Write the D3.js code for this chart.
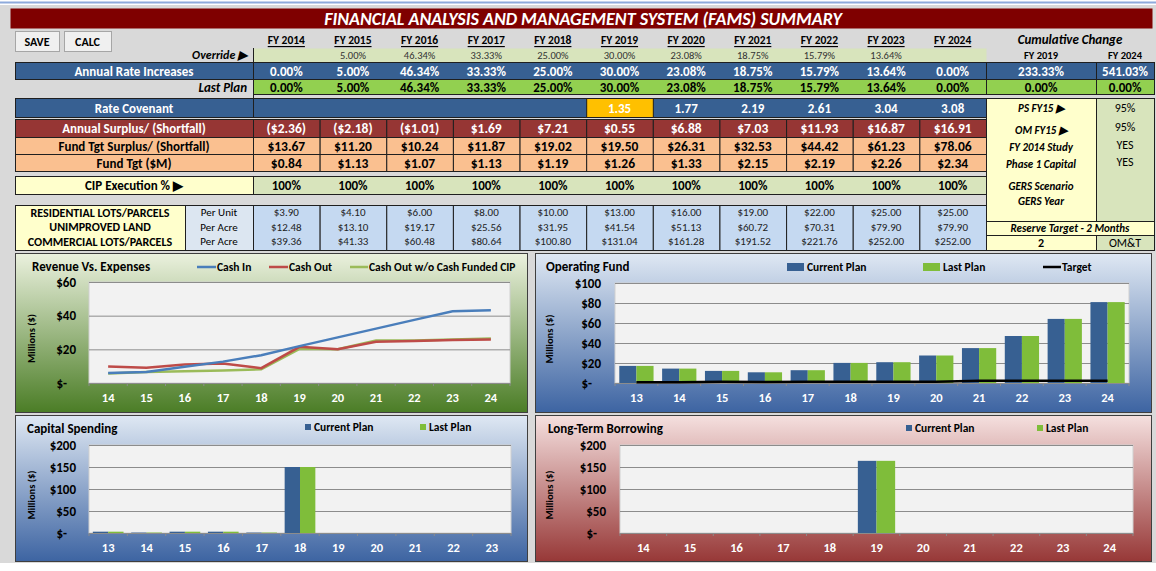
<!DOCTYPE html>
<html lang="en">
<head>
<meta charset="utf-8">
<script src="https://cdn.jsdelivr.net/npm/d3@7"></script>
<style>
  body { margin: 0; background: #fff; }
  svg { display: block; font-family: Carlito, Lato, "Open Sans", sans-serif; }
</style>
</head>
<body>
<svg id="dash" width="1156" height="571"></svg>
<script>
// ---- table data ----
var years = ["FY 2014","FY 2015","FY 2016","FY 2017","FY 2018","FY 2019","FY 2020","FY 2021","FY 2022","FY 2023","FY 2024"];
var overridePct = [null,5.00,46.34,33.33,25.00,30.00,23.08,18.75,15.79,13.64,null];
var ratePct = [0.00,5.00,46.34,33.33,25.00,30.00,23.08,18.75,15.79,13.64,0.00];
var lastPlanPct = [0.00,5.00,46.34,33.33,25.00,30.00,23.08,18.75,15.79,13.64,0.00];
var cumYears = ["FY 2019","FY 2024"];
var cumRatePct = [233.33,541.03];
var cumLastPct = [0.00,0.00];
var rateCovenant = [null,null,null,null,null,1.35,1.77,2.19,2.61,3.04,3.08];
var annualSurplus = [-2.36,-2.18,-1.01,1.69,7.21,0.55,6.88,7.03,11.93,16.87,16.91];
var fundTgtSurplus = [13.67,11.20,10.24,11.87,19.02,19.50,26.31,32.53,44.42,61.23,78.06];
var fundTgt = [0.84,1.13,1.07,1.13,1.19,1.26,1.33,2.15,2.19,2.26,2.34];
var cipExecution = [100,100,100,100,100,100,100,100,100,100,100];
var lotTypes = ["RESIDENTIAL LOTS/PARCELS","UNIMPROVED LAND","COMMERCIAL LOTS/PARCELS"];
var lotUnits = ["Per Unit","Per Acre","Per Acre"];
var residential = [3.90,4.10,6.00,8.00,10.00,13.00,16.00,19.00,22.00,25.00,25.00];
var unimproved = [12.48,13.10,19.17,25.56,31.95,41.54,51.13,60.72,70.31,79.90,79.90];
var commercial = [39.36,41.33,60.48,80.64,100.80,131.04,161.28,191.52,221.76,252.00,252.00];
var sideLabels = ["PS FY15 \u25B6","OM FY15 \u25B6","FY 2014 Study","Phase 1 Capital","GERS Scenario","GERS Year"];
var sideValues = ["95%","95%","YES","YES","",""];
var reserveLabel = "Reserve Target - 2 Months";
var reserveValues = ["2","OM&T"];

// ---- chart data ----
var revYears = ["14","15","16","17","18","19","20","21","22","23","24"];
var cashIn = [6.0,6.6,9.6,12.7,16.5,21.9,27.1,32.3,37.5,42.6,43.2];
var cashOut = [9.8,9.0,11.0,11.6,8.8,21.5,20.1,24.5,24.9,25.5,25.9];
var cashOutNoCip = [5.6,6.6,7.0,7.4,8.2,20.3,20.1,25.3,25.3,25.9,26.5];

var opYears = ["13","14","15","16","17","18","19","20","21","22","23","24"];
var opCurrent = [17.1,14.4,12.1,10.7,12.8,20.1,20.8,27.5,34.9,47.0,64.1,80.9];
var opLast = [17.1,14.4,12.1,10.7,12.8,20.1,20.8,27.5,34.9,47.0,64.1,80.9];
var opTarget = [0.80,0.84,1.13,1.07,1.13,1.19,1.26,1.33,2.15,2.19,2.26,2.34];

var capYears = ["13","14","15","16","17","18","19","20","21","22","23"];
var capCurrent = [3,1,3,3,1,150,0,0,0,0,0];
var capLast = [3,1,3,3,1,150,0,0,0,0,0];

var ltbYears = ["14","15","16","17","18","19","20","21","22","23","24"];
var ltbCurrent = [0,0,0,0,0,164,0,0,0,0,0];
var ltbLast = [0,0,0,0,0,164,0,0,0,0,0];

var C_BLUE = "#376092", C_GREEN = "#7fbd3a";

var svg = d3.select("#dash");
var pct = function(d) { return d.toFixed(2) + "%"; };
var money = function(d) { return d < 0 ? "($" + (-d).toFixed(2) + ")" : "$" + d.toFixed(2); };

function box(x, y, w, h, fill, stroke) {
  return svg.append("rect").attr("x", x + 0.5).attr("y", y + 0.5).attr("width", w).attr("height", h)
    .attr("fill", fill).attr("stroke", stroke || "none");
}
function txt(x, y, s, o) {
  o = o || {};
  return svg.append("text").attr("x", x).attr("y", y).text(s)
    .attr("text-anchor", o.anchor || "middle")
    .attr("dominant-baseline", "central")
    .attr("font-size", o.size || 13)
    .attr("font-weight", o.weight || "bold")
    .attr("font-style", o.style || "normal")
    .attr("fill", o.fill || "#000");
}

// background
svg.append("rect").attr("width", 1156).attr("height", 571).attr("fill", "#fff");
svg.append("rect").attr("x", 0).attr("y", 5).attr("width", 1156).attr("height", 558).attr("fill", "#d9d9d9");
svg.append("line").attr("x1", 0).attr("x2", 1156).attr("y1", 2.5).attr("y2", 2.5).attr("stroke", "#8eaadb").attr("stroke-width", 2);

// title
box(10, 8, 1142, 20, "#7f0000");
txt(583, 18.5, "FINANCIAL ANALYSIS AND MANAGEMENT SYSTEM (FAMS) SUMMARY", {size: 18, style: "italic", fill: "#fff"});

// buttons
[["SAVE", 15, 44], ["CALC", 64, 47]].forEach(function(b) {
  box(b[1], 31, b[2], 20, "#f0f0f0", "#a6a6a6");
  txt(b[1] + b[2] / 2, 41.5, b[0], {size: 12});
});

var col = d3.scaleBand().domain(years).range([253, 986]);
var cx = function(i) { return col(years[i]) + col.bandwidth() / 2; };
var cumX = [1041, 1125];

// headers
years.forEach(function(y, i) {
  txt(cx(i), 40, y, {size: 11.5}).attr("text-decoration", "underline");
});
txt(1070, 39, "Cumulative Change", {size: 13, style: "italic"});
cumYears.forEach(function(y, i) { txt(cumX[i], 55, y, {size: 10.5}); });

// override
box(253, 48, 733, 14, "#d8e4bc");
txt(247, 55, "Override \u25B6", {anchor: "end", size: 12, style: "italic"});
overridePct.forEach(function(v, i) { if (v != null) txt(cx(i), 55, pct(v), {size: 10.5, weight: "normal", fill: "#333"}); });

// annual rate increases
box(15, 62, 1139, 17, C_BLUE, "#1f1f1f");
[253, 986, 1096].forEach(function(x) { svg.append("line").attr("x1", x + .5).attr("x2", x + .5).attr("y1", 62).attr("y2", 80).attr("stroke", "#1f1f1f"); });
txt(134, 71, "Annual Rate Increases", {fill: "#fff"});
ratePct.forEach(function(v, i) { txt(cx(i), 71, pct(v), {fill: "#fff"}); });
cumRatePct.forEach(function(v, i) { txt(cumX[i], 71, pct(v), {fill: "#fff"}); });

// last plan
box(253, 79, 901, 15, "#92d050", "#1f1f1f");
[986, 1096].forEach(function(x) { svg.append("line").attr("x1", x + .5).attr("x2", x + .5).attr("y1", 79).attr("y2", 94).attr("stroke", "#1f1f1f"); });
txt(247, 87, "Last Plan", {anchor: "end", style: "italic"});
lastPlanPct.forEach(function(v, i) { txt(cx(i), 87, pct(v)); });
cumLastPct.forEach(function(v, i) { txt(cumX[i], 87, pct(v)); });
svg.append("line").attr("x1", 253.5).attr("x2", 253.5).attr("y1", 48).attr("y2", 98).attr("stroke", "#1f1f1f");

// rate covenant
box(15, 98, 971, 19, C_BLUE, "#1f1f1f");
svg.append("line").attr("x1", 253.5).attr("x2", 253.5).attr("y1", 98).attr("y2", 117).attr("stroke", "#1f1f1f");
txt(134, 108, "Rate Covenant", {fill: "#fff"});
rateCovenant.forEach(function(v, i) {
  if (v == null) return;
  if (i === 5) box(col(years[i]), 98, col.bandwidth(), 19, "#ffc000", "#1f1f1f");
  txt(cx(i), 108, v.toFixed(2), {fill: "#fff"});
});

// side panel
box(986, 98, 110, 123, "#ffffcc", "#1f1f1f");
box(1096, 98, 58, 123, "#d8e4bc", "#1f1f1f");
var sideY = [108, 130, 147, 164, 186, 201];
var sideValY = [108, 127, 145, 162, 186, 201];
sideLabels.forEach(function(s, i) { txt(1041, sideY[i], s, {size: 11, style: "italic"}); });
sideValues.forEach(function(s, i) { txt(1125, sideValY[i], s, {size: 12, weight: "normal"}); });
box(986, 221, 168, 14, "#ffffcc", "#1f1f1f");
txt(1070, 228, reserveLabel, {size: 11, style: "italic"});
box(986, 235, 110, 15, "#ffffcc", "#1f1f1f");
box(1096, 235, 58, 15, "#d8e4bc", "#1f1f1f");
txt(1041, 243, reserveValues[0], {size: 12});
txt(1125, 243, reserveValues[1], {size: 12, weight: "normal"});

// money rows
var moneyRows = [
  {label: "Annual Surplus/ (Shortfall)", vals: annualSurplus, y: 119, h: 18, fill: "#963634", color: "#fff"},
  {label: "Fund Tgt Surplus/ (Shortfall)", vals: fundTgtSurplus, y: 137, h: 17, fill: "#fac090", color: "#000"},
  {label: "Fund Tgt ($M)", vals: fundTgt, y: 154, h: 17, fill: "#fac090", color: "#000"}
];
moneyRows.forEach(function(r) {
  box(15, r.y, 238, r.h, r.fill, "#1f1f1f");
  txt(134, r.y + r.h / 2 + 0.5, r.label, {fill: r.color});
  r.vals.forEach(function(v, i) {
    box(col(years[i]), r.y, col.bandwidth(), r.h, r.fill, "#1f1f1f");
    txt(cx(i), r.y + r.h / 2 + 0.5, money(v), {fill: r.color, size: 13.5});
  });
});

// CIP execution
box(15, 176, 238, 18, "#ffffcc", "#1f1f1f");
box(253, 176, 733, 18, "#d8e4bc", "#1f1f1f");
txt(134, 185, "CIP Execution % \u25B6");
cipExecution.forEach(function(v, i) { txt(cx(i), 185, v + "%"); });

// lots table
box(15, 205, 170, 45, "#ffffcc", "#1f1f1f");
box(185, 205, 68, 45, "#dce6f1", "#1f1f1f");
years.forEach(function(y) { box(col(y), 205, col.bandwidth(), 45, "#c5d9f1", "#1f1f1f"); });
[residential, unimproved, commercial].forEach(function(arr, r) {
  var y = 212.5 + r * 14.5;
  txt(100, y, lotTypes[r], {size: 12});
  txt(219, y, lotUnits[r], {size: 11, weight: "normal"});
  arr.forEach(function(v, i) { txt(cx(i), y, money(v), {size: 11, weight: "normal", fill: "#222"}); });
});

// ---- charts ----
var defs = svg.append("defs");
function grad(id, top, bottom) {
  var lg = defs.append("linearGradient").attr("id", id).attr("x1", 0).attr("y1", 0).attr("x2", 0).attr("y2", 1);
  lg.append("stop").attr("offset", "0%").attr("stop-color", top);
  lg.append("stop").attr("offset", "100%").attr("stop-color", bottom);
}
grad("gGreen", "#ebf1de", "#4b7d26");
grad("gBlue", "#dfe8f3", "#3d64a2");
grad("gRed", "#f5e0df", "#973837");

function panel(x, y, w, h, fill, title, tx, ty) {
  box(x, y, w, h, "url(#" + fill + ")", "#3f3f3f");
  txt(tx, ty, title, {anchor: "start", size: 13});
}

function axes(x, y, ticks, pad, ytitleX) {
  var x0 = x.range()[0], x1 = x.range()[1], yb = y.range()[0], yt = y.range()[1];
  svg.append("rect").attr("x", x0).attr("y", yt).attr("width", x1 - x0).attr("height", yb - yt)
    .attr("fill", "#f2f2f2").attr("stroke", "#d0d0d0");
  var grid = svg.append("g").attr("transform", "translate(" + x0 + ",0)")
    .call(d3.axisLeft(y).tickValues(ticks).tickSize(-(x1 - x0)).tickFormat(""));
  grid.select(".domain").remove();
  grid.selectAll("line").attr("stroke", "#8c8c8c");
  var ya = svg.append("g").attr("transform", "translate(" + x0 + ",0)")
    .call(d3.axisLeft(y).tickValues(ticks).tickSize(0).tickPadding(pad)
      .tickFormat(function(d) { return d === 0 ? "$-" : "$" + d; }));
  ya.select(".domain").remove();
  ya.attr("font-family", null).attr("font-size", null);
  ya.selectAll("text").attr("font-size", 13).attr("font-weight", "bold").attr("fill", "#000")
    .attr("dx", function(d) { return d === 0 ? -9 : 0; });
  var xa = svg.append("g").attr("transform", "translate(0," + yb + ")")
    .call(d3.axisBottom(x).tickSize(0).tickPadding(10));
  xa.attr("font-family", null).attr("font-size", null);
  xa.select(".domain").attr("stroke", "#8c8c8c");
  xa.selectAll("text").attr("font-size", 12.5).attr("font-weight", "bold").attr("fill", "#fff");
  svg.append("g").selectAll("line").data(x.domain().concat(["_end"])).join("line")
    .attr("x1", function(d) { return d === "_end" ? x1 : x(d); })
    .attr("x2", function(d) { return d === "_end" ? x1 : x(d); })
    .attr("y1", yb).attr("y2", yb + 3).attr("stroke", "#8c8c8c");
  svg.append("text").attr("transform", "translate(" + ytitleX + "," + ((yb + yt) / 2 + 6) + ") rotate(-90)")
    .attr("text-anchor", "middle").attr("dominant-baseline", "central")
    .attr("font-size", 10.5).attr("font-weight", "bold").text("Millions ($)");
}

function legendLine(x, y, color, label, w) {
  svg.append("line").attr("x1", x).attr("x2", x + w).attr("y1", y).attr("y2", y).attr("stroke", color).attr("stroke-width", 2.5);
  txt(x + w + 1, y, label, {anchor: "start", size: 11.5});
}
function legendBox(x, y, color, label, w, h) {
  svg.append("rect").attr("x", x).attr("y", y - h / 2).attr("width", w).attr("height", h).attr("fill", color);
  txt(x + w + 3, y, label, {anchor: "start", size: 11.5});
}

function bars(x, y, names, cur, last) {
  var sub = d3.scaleBand().domain(["cur", "last"]).range([0, x.bandwidth()]).paddingOuter(0.25);
  [[cur, "cur", C_BLUE], [last, "last", C_GREEN]].forEach(function(s) {
    svg.append("g").selectAll("rect").data(s[0]).join("rect")
      .attr("x", function(d, i) { return x(names[i]) + sub(s[1]); })
      .attr("width", sub.bandwidth())
      .attr("y", function(d) { return y(d); })
      .attr("height", function(d) { return y(0) - y(d); })
      .attr("fill", s[2]);
  });
}

// Revenue vs Expenses
panel(15, 253, 512, 159, "gGreen", "Revenue Vs. Expenses", 32, 266);
var rx = d3.scaleBand().domain(revYears).range([89, 510]);
var ry = d3.scaleLinear().domain([0, 60]).range([383, 282]);
axes(rx, ry, [0, 20, 40, 60], 13, 31);
var line = d3.line().x(function(d, i) { return rx(revYears[i]) + rx.bandwidth() / 2; }).y(function(d) { return ry(d); });
[[cashOutNoCip, "#9bbb59"], [cashOut, "#be4b48"], [cashIn, "#4a7ebb"]].forEach(function(s) {
  svg.append("path").datum(s[0]).attr("d", line).attr("fill", "none").attr("stroke", s[1]).attr("stroke-width", 2.5);
});
legendLine(197, 267, "#4a7ebb", "Cash In", 19);
legendLine(269, 267, "#be4b48", "Cash Out", 19);
legendLine(350, 267, "#9bbb59", "Cash Out w/o Cash Funded CIP", 18);

// Operating Fund
panel(535, 253, 616, 159, "gBlue", "Operating Fund", 546, 266);
var ox = d3.scaleBand().domain(opYears).range([615, 1129]);
var oy = d3.scaleLinear().domain([0, 100]).range([383, 283]);
axes(ox, oy, [0, 20, 40, 60, 80, 100], 14, 549);
bars(ox, oy, opYears, opCurrent, opLast);
var tline = d3.line().x(function(d, i) { return ox(opYears[i]) + ox.bandwidth() / 2; }).y(function(d) { return oy(d); });
svg.append("path").datum(opTarget).attr("d", tline).attr("fill", "none").attr("stroke", "#000").attr("stroke-width", 2.5);
legendBox(787, 267, C_BLUE, "Current Plan", 17, 8);
legendBox(923, 267, C_GREEN, "Last Plan", 17, 8);
legendLine(1043, 267, "#000", "Target", 18);

// Capital Spending
panel(15, 415, 512, 146, "gBlue", "Capital Spending", 27, 428);
var kx = d3.scaleBand().domain(capYears).range([89, 511]);
var ky = d3.scaleLinear().domain([0, 200]).range([533, 445]);
axes(kx, ky, [0, 50, 100, 150, 200], 13, 31);
bars(kx, ky, capYears, capCurrent, capLast);
legendBox(305, 427, C_BLUE, "Current Plan", 6, 6);
legendBox(420, 427, C_GREEN, "Last Plan", 6, 6);

// Long-Term Borrowing
panel(535, 415, 616, 146, "gRed", "Long-Term Borrowing", 548, 428);
var lx = d3.scaleBand().domain(ltbYears).range([620, 1133]);
var ly = d3.scaleLinear().domain([0, 200]).range([533, 445]);
axes(lx, ly, [0, 50, 100, 150, 200], 14, 549);
bars(lx, ly, ltbYears, ltbCurrent, ltbLast);
legendBox(906, 428, C_BLUE, "Current Plan", 6, 6);
legendBox(1037, 428, C_GREEN, "Last Plan", 6, 6);
</script>
</body>
</html>
